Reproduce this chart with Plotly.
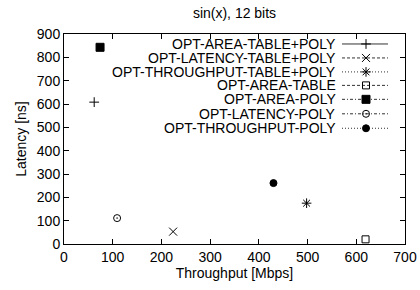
import plotly.graph_objects as go

# ---- data ----
series_names = [
    "OPT-AREA-TABLE+POLY",
    "OPT-LATENCY-TABLE+POLY",
    "OPT-THROUGHPUT-TABLE+POLY",
    "OPT-AREA-TABLE",
    "OPT-AREA-POLY",
    "OPT-LATENCY-POLY",
    "OPT-THROUGHPUT-POLY",
]
throughput = [62, 224, 498, 619, 74, 109, 430]
latency = [608, 53, 175, 20, 843, 111, 261]

x_ticks = [0, 100, 200, 300, 400, 500, 600, 700]
y_ticks = [0, 100, 200, 300, 400, 500, 600, 700, 800, 900]

# ---- styles ----
symbols = ["cross-thin-open", "x-thin-open", "asterisk-open", "square-open",
           "square", "circle-open-dot", "circle"]
sizes = [7, 8, 8, 7, 8, 7, 7]
dashes = ["solid", "3px,2px", "1px,2px", "3px,2px", "3px,2px,1px,2px",
          "3px,2px,1px,2px", "1px,2px"]
FONT = "Liberation Sans, Arial, sans-serif"
FS = 14

fig = go.Figure()
for i, name in enumerate(series_names):
    fig.add_trace(go.Scatter(
        x=[throughput[i]], y=[latency[i]], mode="markers", name=name,
        marker=dict(symbol=symbols[i], size=sizes[i], color="black",
                    line=dict(color="black", width=1)),
        showlegend=False, cliponaxis=False,
    ))

# ---- manual gnuplot-style legend (text left, sample right) ----
W, H = 341.0, 210.5
row_px = [10, 24, 38, 51.5, 65.5, 80, 94.5]  # distance from top of plot area
x0, x1, xm = (342 - 64) / W, (388 - 64) / W, (366 - 64) / W
annotations = []
for i, name in enumerate(series_names):
    yy = 1 - row_px[i] / H
    fig.add_trace(go.Scatter(
        x=[x0, x1], y=[yy, yy], xaxis="x2", yaxis="y2", mode="lines",
        line=dict(color="#333333", width=1, dash=dashes[i]),
        showlegend=False, hoverinfo="skip",
    ))
    fig.add_trace(go.Scatter(
        x=[xm], y=[yy], xaxis="x2", yaxis="y2", mode="markers",
        marker=dict(symbol=symbols[i], size=sizes[i], color="black",
                    line=dict(color="black", width=1)),
        showlegend=False, hoverinfo="skip",
    ))
    annotations.append(dict(
        x=(338 - 64) / W, y=yy, xref="paper", yref="paper",
        xanchor="right", yanchor="middle", text=name, showarrow=False,
        font=dict(family=FONT, size=FS, color="black"),
    ))

axis_common = dict(
    showgrid=False, zeroline=False, showline=True, linecolor="black",
    linewidth=1, mirror="allticks", ticks="inside", ticklen=5,
    tickcolor="black", automargin=False,
    tickfont=dict(family=FONT, size=FS, color="black"),
)

fig.update_layout(
    width=420, height=290,
    margin=dict(l=64, r=15, t=33.5, b=46),
    paper_bgcolor="white", plot_bgcolor="white",
    title=dict(text="sin(x), 12 bits", x=(64 + 341 / 2) / 420, xanchor="center",
               y=1 - 13 / 290, yanchor="middle",
               font=dict(family=FONT, size=FS, color="black")),
    xaxis=dict(range=[0, 700], tickvals=x_ticks,
               title=dict(text="Throughput [Mbps]", standoff=4,
                          font=dict(family=FONT, size=FS, color="black")),
               **axis_common),
    yaxis=dict(range=[0, 900], tickvals=y_ticks,
               title=dict(text="Latency [ns]", standoff=6,
                          font=dict(family=FONT, size=FS, color="black")),
               **axis_common),
    xaxis2=dict(overlaying="x", range=[0, 1], visible=False),
    yaxis2=dict(overlaying="y", range=[0, 1], visible=False),
    annotations=annotations,
    showlegend=False,
)

fig.write_html("out.html",
               config={"displayModeBar": False, "staticPlot": True},
               post_script="document.body.style.margin='0px';"
                           "document.body.style.overflow='hidden';")
